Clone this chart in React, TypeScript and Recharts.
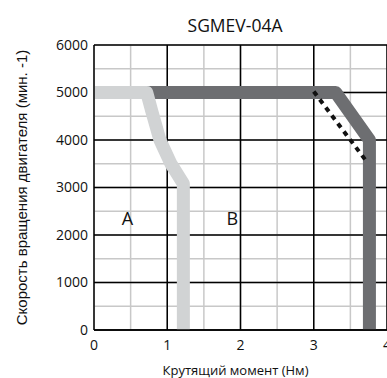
import React from "react";
import {
  LineChart,
  Line,
  XAxis,
  YAxis,
  CartesianGrid,
  ReferenceLine,
  ReferenceDot,
} from "recharts";

const title = "SGMEV-04A";
const xLabel = "Крутящий момент (Нм)";
const yLabel = "Скорость вращения двигателя (мин. -1)";

const xTicks = [0, 0.5, 1, 1.5, 2, 2.5, 3, 3.5, 4];
const yTicks = [0, 500, 1000, 1500, 2000, 2500, 3000, 3500, 4000, 4500, 5000, 5500, 6000];
const majorX = [1, 2, 3, 4];
const majorY = [0, 1000, 2000, 3000, 4000, 5000, 6000];

// region A (light) boundary
const lightCurve = [
  { x: 0, y: 5000 },
  { x: 0.72, y: 5000 },
  { x: 0.79, y: 4600 },
  { x: 0.9, y: 4000 },
  { x: 1.05, y: 3500 },
  { x: 1.22, y: 3080 },
  { x: 1.22, y: 0 },
];

// region B (dark) boundary
const darkCurve = [
  { x: 0.72, y: 5000 },
  { x: 3.3, y: 5000 },
  { x: 3.76, y: 4000 },
  { x: 3.76, y: 0 },
];

const dashedCurve = [
  { x: 3.0, y: 5020 },
  { x: 3.74, y: 3510 },
];

const regionLabels = [
  { x: 0.455, y: 2350, text: "A" },
  { x: 1.89, y: 2350, text: "B" },
];

const font = "'Open Sans', sans-serif";
const labelFont = "'Liberation Sans', Arial, sans-serif";

export default function App() {
  return (
    <div style={{ position: "absolute", left: 0, top: 0, width: 387, height: 378, fontFamily: font }}>
      <div
        style={{
          position: "absolute",
          left: 135,
          width: 200,
          top: 13,
          textAlign: "center",
          fontSize: 17.5,
          color: "#111",
        }}
      >
        {title}
      </div>
      <LineChart
        width={387}
        height={378}
        margin={{ top: 45, right: 0, left: 0, bottom: 0 }}
      >
        <CartesianGrid stroke="#c8c8c8" strokeWidth={1.5} horizontal vertical />
        <XAxis
          type="number"
          dataKey="x"
          domain={[0, 4]}
          ticks={xTicks}
          tickFormatter={(v: number) => (Number.isInteger(v) ? String(v) : "")}
          interval={0}
          height={48}
          tickLine={false}
          tickSize={0}
          tickMargin={10}
          axisLine={{ stroke: "#000", strokeWidth: 1.5 }}
          tick={{ fill: "#111", fontSize: 14, fontFamily: font }}
          label={{ value: xLabel, position: "insideBottom", offset: 3, dx: -5, fill: "#111", fontSize: 13, fontFamily: font }}
        />
        <YAxis
          type="number"
          dataKey="y"
          domain={[0, 6000]}
          ticks={yTicks}
          tickFormatter={(v: number) => (v % 1000 === 0 ? String(v) : "")}
          interval={0}
          width={94}
          tickLine={false}
          tickSize={0}
          tickMargin={6}
          axisLine={{ stroke: "#000", strokeWidth: 1.5 }}
          tick={{ fill: "#111", fontSize: 14, fontFamily: font }}
          label={{
            value: yLabel,
            angle: -90,
            position: "insideLeft",
            offset: 22,
            fill: "#111",
            fontSize: 15,
            fontFamily: labelFont,
            style: { textAnchor: "middle" },
          }}
        />
        {majorX.map((v) => (
          <ReferenceLine key={"vx" + v} x={v} stroke="#000" strokeWidth={1.5} />
        ))}
        {majorY.map((v) => (
          <ReferenceLine key={"hy" + v} y={v} stroke="#000" strokeWidth={1.5} />
        ))}
        <Line
          data={darkCurve}
          dataKey="y"
          type="linear"
          stroke="#6d6e71"
          strokeWidth={13}
          strokeLinejoin="round"
          dot={false}
          isAnimationActive={false}
        />
        <Line
          data={lightCurve}
          dataKey="y"
          type="linear"
          stroke="#d1d3d4"
          strokeWidth={13}
          strokeLinejoin="round"
          dot={false}
          isAnimationActive={false}
        />
        <Line
          data={dashedCurve}
          dataKey="y"
          type="linear"
          stroke="#111"
          strokeWidth={4}
          strokeDasharray="5 5"
          dot={false}
          isAnimationActive={false}
        />
        {regionLabels.map((l) => (
          <ReferenceDot
            key={l.text}
            x={l.x}
            y={l.y}
            r={0}
            fill="none"
            stroke="none"
            label={{ value: l.text, position: "center", fill: "#111", fontSize: 18, fontFamily: font }}
          />
        ))}
      </LineChart>
    </div>
  );
}
